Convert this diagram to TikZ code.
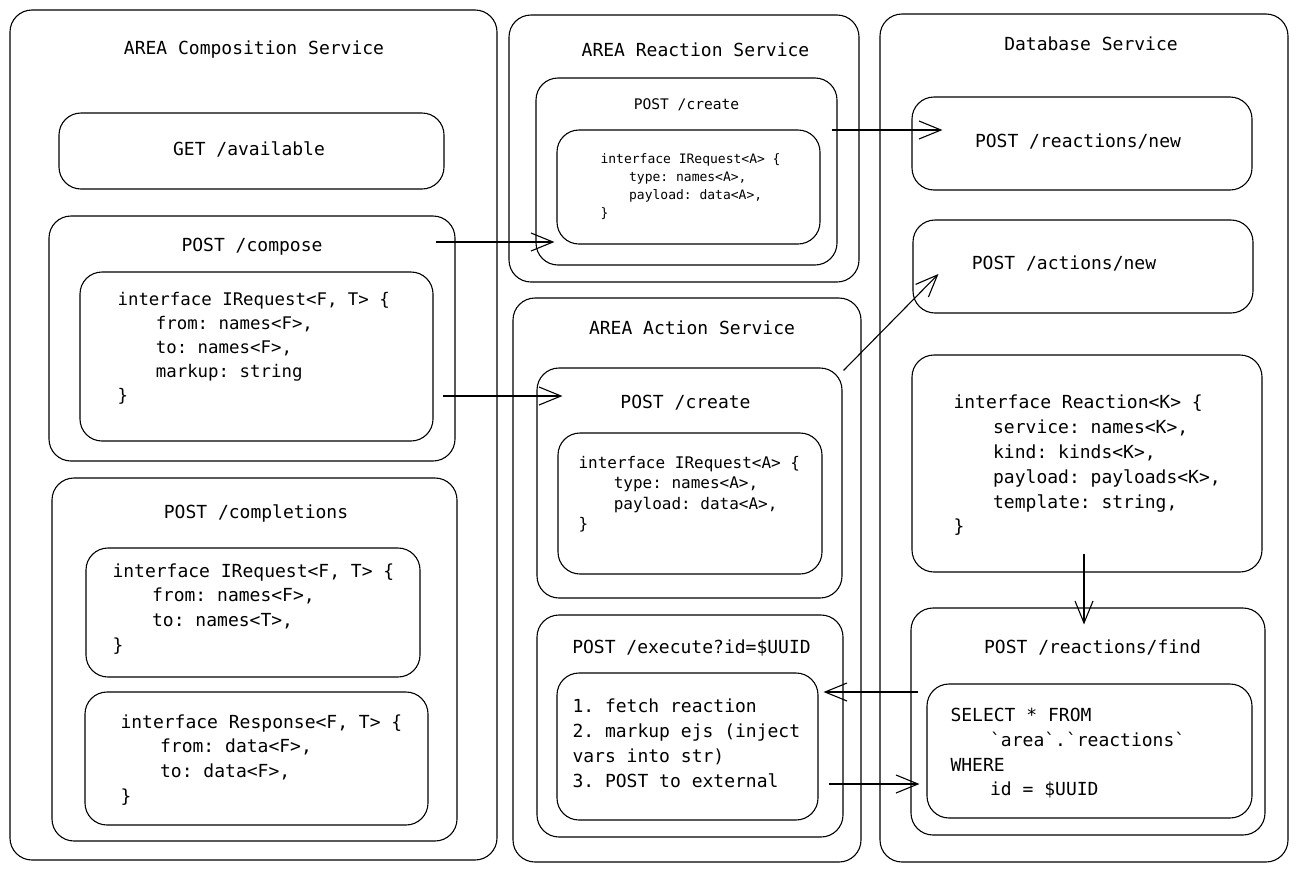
\documentclass[tikz,border=0pt]{standalone}
\usepackage{fontspec}
\setmonofont{DejaVu Sans Mono}
\usetikzlibrary{arrows.meta}
\newcommand{\indt}{\hspace*{2.2em}}

\begin{document}
\begin{tikzpicture}[x=1pt,y=-1pt,line width=1.1pt,
  >={Straight Barb[length=22pt,width=18pt]},
  pane/.style={draw,rounded corners=22,inner sep=0},
  head/.style={font=\ttfamily\fontsize{18}{22}\selectfont,inner sep=0},
  code/.style={font=\ttfamily\fontsize{18}{24.7}\selectfont,align=left,anchor=north west,inner sep=0}]
\fill[white] (0,0) rectangle (1298,873);
\useasboundingbox (0,0) rectangle (1298,873);

% AREA Composition Service
\node[pane,minimum width=487,minimum height=850] (comp) at (253.5,435) {};
\node[head] (compT) at (254,50) {AREA Composition Service};
\node[pane,minimum width=385,minimum height=76] (avail) at (251.5,151) {};
\node[head] (availT) at (249,149) {GET /available};
\node[pane,minimum width=406,minimum height=245] (compose) at (252,338.5) {};
\node[head] (composeT) at (252,247) {POST /compose};
\node[pane,minimum width=353,minimum height=169] (composeReq) at (256.5,356.5) {};
\node[code,font=\ttfamily\fontsize{17.4}{24}\selectfont] (composeCode) at (117,292) {interface IRequest<F, T> \{\\
\indt from: names<F>,\\ \indt to: names<F>,\\ \indt markup: string\\ \}};
\node[pane,minimum width=405,minimum height=363] (compl) at (254.5,659.5) {};
\node[head] (complT) at (256,513) {POST /completions};
\node[pane,minimum width=334,minimum height=129] (complReq) at (253,612.5) {};
\node[code] (complReqCode) at (112,563) {interface IRequest<F, T> \{\\
\indt from: names<F>,\\ \indt to: names<T>,\\ \}};
\node[pane,minimum width=343,minimum height=133] (complResp) at (256.5,758.5) {};
\node[code] (complRespCode) at (120,714) {interface Response<F, T> \{\\
\indt from: data<F>,\\ \indt to: data<F>,\\ \}};

% AREA Reaction Service
\node[pane,minimum width=350,minimum height=267] (react) at (684,148.5) {};
\node[head] (reactT) at (695.5,50) {AREA Reaction Service};
\node[pane,minimum width=301,minimum height=187] (reactCreate) at (686.5,171.5) {};
\node[head,font=\ttfamily\fontsize{14.6}{18}\selectfont] (reactCreateT) at (686.5,105) {POST /create};
\node[pane,minimum width=263,minimum height=114] (reactReq) at (688.5,187) {};
\node[code,font=\ttfamily\fontsize{13}{18}\selectfont] (reactReqCode) at (600,153) {interface IRequest<A> \{\\
\indt type: names<A>,\\ \indt payload: data<A>,\\ \}};

% AREA Action Service
\node[pane,minimum width=348,minimum height=564] (act) at (687,580) {};
\node[head] (actT) at (692,328) {AREA Action Service};
\node[pane,minimum width=305,minimum height=230] (actCreate) at (689.5,483) {};
\node[head] (actCreateT) at (685.5,403) {POST /create};
\node[pane,minimum width=264,minimum height=141] (actReq) at (690,503.5) {};
\node[code,font=\ttfamily\fontsize{16}{20.5}\selectfont] (actReqCode) at (578,455.6) {interface IRequest<A> \{\\
\indt type: names<A>,\\ \indt payload: data<A>,\\ \}};
\node[pane,minimum width=306,minimum height=222] (exec) at (690,726) {};
\node[head] (execT) at (691.5,648) {POST /execute?id=\$UUID};
\node[pane,minimum width=261,minimum height=147] (execSteps) at (687.5,746.5) {};
\node[code,font=\ttfamily\fontsize{18}{25}\selectfont] (execCode) at (572,698.7) {1. fetch reaction\\
2. markup ejs (inject\\ vars into str)\\ 3. POST to external};

% Database Service
\node[pane,minimum width=408,minimum height=848] (db) at (1084,438) {};
\node[head] (dbT) at (1091,44) {Database Service};
\node[pane,minimum width=340,minimum height=93] (dbReactNew) at (1082,143.5) {};
\node[head] (reactNewT) at (1078,141) {POST /reactions/new};
\node[pane,minimum width=340,minimum height=93] (dbActNew) at (1083,266.5) {};
\node[head] (actNewT) at (1064,263) {POST /actions/new};
\node[pane,minimum width=350,minimum height=217] (dbReaction) at (1087,463.5) {};
\node[code,font=\ttfamily\fontsize{18}{24.8}\selectfont] (dbReactionCode) at (953,394.7) {interface Reaction<K> \{\\
\indt service: names<K>,\\ \indt kind: kinds<K>,\\ \indt payload: payloads<K>,\\ \indt template: string,\\ \}};
\node[pane,minimum width=354,minimum height=227] (dbFind) at (1088,721.5) {};
\node[head] (findT) at (1092.5,647) {POST /reactions/find};
\node[pane,minimum width=325,minimum height=134] (dbQuery) at (1089.5,751) {};
\node[code] (queryCode) at (950,707.7) {SELECT * FROM\\
\indt\textasciigrave area\textasciigrave.\textasciigrave reactions\textasciigrave\\ WHERE\\ \indt id = \$UUID};

% connectors
\draw[->] ([xshift=-20pt,yshift=96.5pt]compose.east) -- ([xshift=-2pt,yshift=-55pt]reactReq.west);
\draw[->] ([xshift=9pt,yshift=-39.5pt]composeReq.east) -- ([xshift=26pt,yshift=87pt]actCreate.west);
\draw[->] ([xshift=-6pt,yshift=41.5pt]reactCreate.east) -- ([xshift=31pt,yshift=13.5pt]dbReactNew.west);
\draw[->] ([xshift=1pt,yshift=-3pt]actCreate.north east) -- ([xshift=26pt,yshift=-7.5pt]dbActNew.west);
\draw[->] ([xshift=-3pt,yshift=19pt]dbReaction.south) -- ([xshift=-4pt,yshift=-17pt]dbFind.north);
\draw[->] ([xshift=8pt,yshift=29.5pt]dbFind.west) -- ([xshift=5pt,yshift=54.5pt]execSteps.east);
\draw[->] ([xshift=10pt,yshift=-37.5pt]execSteps.east) -- ([xshift=-7pt,yshift=-33pt]dbQuery.west);
\end{tikzpicture}
\end{document}
